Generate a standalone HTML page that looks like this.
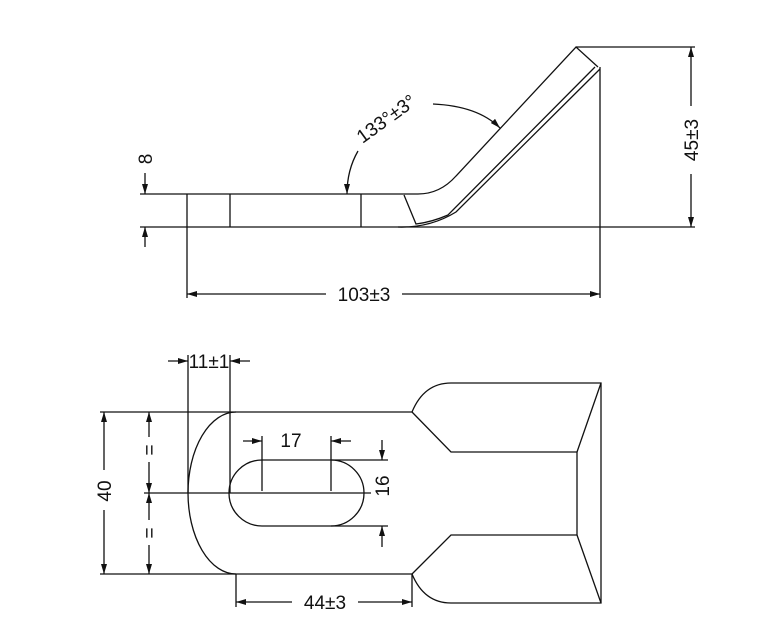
<!DOCTYPE html>
<html><head><meta charset="utf-8"><style>
html,body{margin:0;padding:0;background:#fff;}
svg{display:block;}
text{font-family:"Liberation Sans",sans-serif;font-size:19px;fill:#111;}
</style></head><body>
<svg width="760" height="630" viewBox="0 0 760 630" xmlns="http://www.w3.org/2000/svg">
<defs>
<marker id="a" viewBox="0 0 10 6" refX="10" refY="3" markerWidth="10" markerHeight="6" orient="auto-start-reverse" markerUnits="userSpaceOnUse">
<path d="M0,0 L10,3 L0,6 z" fill="#111"/></marker>
</defs>
<g stroke="#111" stroke-width="1.3" fill="none">
<line x1="140" y1="227" x2="695" y2="227"/>
<line x1="140" y1="194" x2="187" y2="194"/>
<line x1="187" y1="194" x2="418" y2="194"/>
<line x1="187" y1="194" x2="187" y2="298"/>
<line x1="230" y1="194" x2="230" y2="227"/>
<line x1="361" y1="194" x2="361" y2="227"/>
<path d="M418,194 Q440,194 456,176 L576,47 L598,67"/>
<path d="M404,195 L416,224 Q432,222 448,215 L595,67"/>
<path d="M398,227 Q430,228 456,212 L600,69"/>
<line x1="600" y1="67" x2="600" y2="298"/>
<line x1="576" y1="47" x2="695" y2="47"/>
<line x1="691" y1="47" x2="691" y2="106" marker-start="url(#a)"/>
<line x1="691" y1="174" x2="691" y2="227" marker-end="url(#a)"/>
<line x1="145" y1="173" x2="145" y2="194" marker-end="url(#a)"/>
<line x1="145" y1="247" x2="145" y2="227" marker-end="url(#a)"/>
<line x1="187" y1="294" x2="326" y2="294" marker-start="url(#a)"/>
<line x1="402" y1="294" x2="600" y2="294" marker-end="url(#a)"/>
<path d="M433,104 Q478,106 500,128" marker-end="url(#a)"/>
<path d="M358,151 Q347,170 347,194" marker-end="url(#a)"/>

<path d="M236,412 A48,81 0 0 0 236,574"/>
<line x1="236" y1="412" x2="412" y2="412"/>
<line x1="236" y1="574" x2="412" y2="574"/>
<path d="M412,412 Q424,383 451,383 L601,383 L601,603 L451,603 Q424,603 412,574"/>
<path d="M412,412 L451,452 L577,452 L577,535 L451,535 L412,574"/>
<line x1="601" y1="383" x2="577" y2="452"/>
<line x1="601" y1="603" x2="577" y2="535"/>
<path d="M262,460 L331,460 A33,33 0 0 1 331,526 L262,526 A33,33 0 0 1 262,460 Z"/>
<line x1="144" y1="493" x2="371" y2="493"/>
<line x1="188" y1="355" x2="188" y2="493"/>
<line x1="230" y1="355" x2="230" y2="493"/>
<line x1="168" y1="361" x2="188" y2="361" marker-end="url(#a)"/>
<line x1="250" y1="361" x2="230" y2="361" marker-end="url(#a)"/>
<line x1="262" y1="436" x2="262" y2="491"/>
<line x1="331" y1="436" x2="331" y2="491"/>
<line x1="243" y1="441" x2="262" y2="441" marker-end="url(#a)"/>
<line x1="351" y1="441" x2="331" y2="441" marker-end="url(#a)"/>
<line x1="331" y1="460" x2="388" y2="460"/>
<line x1="331" y1="526" x2="388" y2="526"/>
<line x1="382" y1="440" x2="382" y2="460" marker-end="url(#a)"/>
<line x1="382" y1="547" x2="382" y2="526" marker-end="url(#a)"/>
<line x1="100" y1="412" x2="236" y2="412"/>
<line x1="100" y1="574" x2="236" y2="574"/>
<line x1="104" y1="412" x2="104" y2="470" marker-start="url(#a)"/>
<line x1="104" y1="510" x2="104" y2="574" marker-end="url(#a)"/>
<line x1="149" y1="412" x2="149" y2="437" marker-start="url(#a)"/>
<line x1="149" y1="462" x2="149" y2="493" marker-end="url(#a)"/>
<line x1="149" y1="493" x2="149" y2="520" marker-start="url(#a)"/>
<line x1="149" y1="545" x2="149" y2="574" marker-end="url(#a)"/>
<line x1="236" y1="574" x2="236" y2="607"/>
<line x1="412" y1="574" x2="412" y2="607"/>
<line x1="236" y1="602" x2="292" y2="602" marker-start="url(#a)"/>
<line x1="358" y1="602" x2="412" y2="602" marker-end="url(#a)"/>
</g>
<g>
<text x="364" y="301" text-anchor="middle">103±3</text>
<text transform="translate(698,140) rotate(-90)" text-anchor="middle">45±3</text>
<text transform="translate(152,159) rotate(-90)" text-anchor="middle">8</text>
<text transform="translate(390,124) rotate(-36)" text-anchor="middle">133°±3°</text>
<text x="209" y="368" text-anchor="middle">11±1</text>
<text x="291" y="447" text-anchor="middle">17</text>
<text transform="translate(389,486) rotate(-90)" text-anchor="middle">16</text>
<text transform="translate(111,491) rotate(-90)" text-anchor="middle">40</text>
<text transform="translate(156,450) rotate(-90)" text-anchor="middle">=</text>
<text transform="translate(156,533) rotate(-90)" text-anchor="middle">=</text>
<text x="325" y="609" text-anchor="middle">44±3</text>
</g>
</svg>
</body></html>
